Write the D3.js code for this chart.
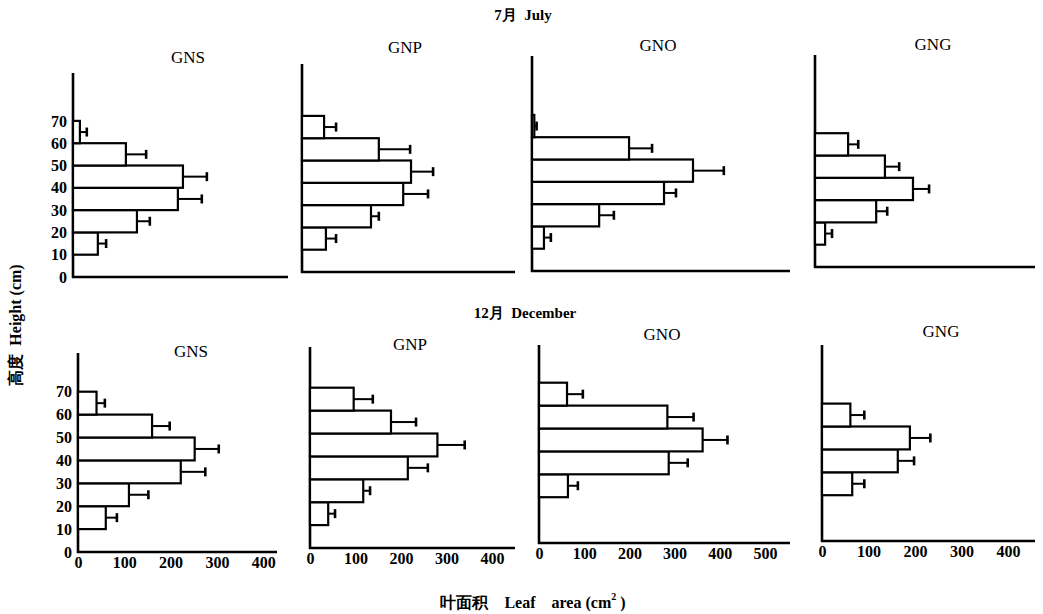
<!DOCTYPE html>
<html><head><meta charset="utf-8">
<script src="https://cdn.jsdelivr.net/npm/d3@7"></script>
<style>
html,body{margin:0;padding:0;background:#fff;}
svg text{font-family:"Liberation Serif","DejaVu Serif",serif;fill:#000;white-space:pre;}
</style></head>
<body>
<svg id="c" width="1043" height="614"></svg>
<script>
// ---------- data ----------
const panelNames = ["GNS", "GNP", "GNO", "GNG"];
const binStarts = [10, 20, 30, 40, 50, 60];       // lower edge of each 10 cm height class
const yTickValues = [0, 10, 20, 30, 40, 50, 60, 70];
const xTickValues = [0, 100, 200, 300, 400];
const xTickValuesGNO = [0, 100, 200, 300, 400, 500];

// July (7月)
const julyGNS = [54, 139, 228, 239, 115, 15];
const julyGNSErr = [18, 28, 52, 52, 44, 15];
const julyGNP = [52, 150, 220, 237, 167, 48];
const julyGNPErr = [22, 17, 54, 48, 68, 26];
const julyGNO = [26, 146, 287, 350, 211, 5];
const julyGNOErr = [15, 32, 26, 67, 50, 5];
const julyGNG = [22, 133, 213, 152, 72, null];
const julyGNGErr = [15, 24, 35, 31, 22, null];

// December (12月)
const decGNS = [60, 110, 222, 252, 160, 40];
const decGNSErr = [24, 42, 53, 52, 38, 18];
const decGNP = [40, 117, 215, 280, 178, 96];
const decGNPErr = [15, 15, 44, 60, 55, 42];
const decGNO = [null, 64, 287, 362, 284, 62];
const decGNOErr = [null, 22, 42, 55, 58, 35];
const decGNG = [null, 65, 163, 189, 61, null];
const decGNGErr = [null, 26, 35, 44, 30, null];

const rowTitles = ["7月  July", "12月  December"];
const yTitle = "高度  Height (cm)";
const xTitleCN = "叶面积", xTitleEN = "Leaf    area (cm", xTitleSup = "2", xTitleEnd = " )";

// ---------- layout ----------
const rowsData = [
  [[julyGNS, julyGNSErr], [julyGNP, julyGNPErr], [julyGNO, julyGNOErr], [julyGNG, julyGNGErr]],
  [[decGNS, decGNSErr], [decGNP, decGNPErr], [decGNO, decGNOErr], [decGNG, decGNGErr]]
];
const layout = [
  { yPer10: 22.3, showX: false, titleXY: [523, 15], panels: [
    { x0: 73,  base: 277, top: 73, end: 288,  px100: 46,   t: [188, 57] },
    { x0: 302, base: 272, top: 64, end: 515,  px100: 46,   t: [405, 47] },
    { x0: 532, base: 271, top: 56, end: 790,  px100: 46,   t: [658, 45] },
    { x0: 815, base: 267, top: 55, end: 1035, px100: 46,   t: [933, 44] } ] },
  { yPer10: 22.9, showX: true, titleXY: [525, 313], panels: [
    { x0: 78,  base: 552, top: 353, end: 277,  px100: 46.3, t: [191, 351] },
    { x0: 310, base: 548, top: 347, end: 515,  px100: 45.5, t: [410, 344] },
    { x0: 539, base: 543, top: 345, end: 790,  px100: 45.2, t: [662, 334] },
    { x0: 822, base: 541, top: 345, end: 1035, px100: 46.5, t: [941, 331] } ] }
];

const svg = d3.select("#c");

layout.forEach((row, ri) => {
  svg.append("text").attr("x", row.titleXY[0]).attr("y", row.titleXY[1])
    .attr("text-anchor", "middle").attr("dominant-baseline", "central")
    .style("font-size", "15px").style("font-weight", "bold").text(rowTitles[ri]);

  row.panels.forEach((p, pi) => {
    const [vals, errs] = rowsData[ri][pi];
    const x = d3.scaleLinear().domain([0, 100]).range([p.x0, p.x0 + p.px100]);
    const y = d3.scaleLinear().domain([0, 10]).range([p.base, p.base - row.yPer10]);
    const g = svg.append("g");

    // title
    g.append("text").attr("x", p.t[0]).attr("y", p.t[1])
      .attr("text-anchor", "middle").attr("dominant-baseline", "central")
      .style("font-size", "17px").text(panelNames[pi]);

    // axes lines
    g.append("line").attr("x1", p.x0).attr("x2", p.x0).attr("y1", p.top).attr("y2", p.base + 1)
      .attr("stroke", "#000").attr("stroke-width", 2.6);
    g.append("line").attr("x1", p.x0 - 1).attr("x2", p.end).attr("y1", p.base).attr("y2", p.base)
      .attr("stroke", "#000").attr("stroke-width", 2.6);

    // y tick labels (first column only)
    if (pi === 0) {
      const ya = d3.axisLeft(y).tickValues(yTickValues).tickSize(0).tickPadding(6).tickFormat(d3.format("d"));
      const ag = g.append("g").attr("transform", `translate(${p.x0},0)`).call(ya);
      ag.select(".domain").remove();
      ag.selectAll("text").style("font-family", '"Liberation Serif",serif')
        .style("font-size", "16px").style("font-weight", "bold").attr("fill", "#000");
    }
    // x tick labels (bottom row)
    if (row.showX) {
      const tv = pi === 2 ? xTickValuesGNO : xTickValues;
      const xa = d3.axisBottom(x).tickValues(tv).tickSize(0).tickPadding(5).tickFormat(d3.format("d"));
      const ag = g.append("g").attr("transform", `translate(0,${p.base})`).call(xa);
      ag.select(".domain").remove();
      ag.selectAll("text").style("font-family", '"Liberation Serif",serif')
        .style("font-size", "16px").style("font-weight", "bold").attr("fill", "#000");
    }

    const data = binStarts.map((b, i) => ({ b, v: vals[i], e: errs[i] })).filter(d => d.v != null);

    // bars
    g.selectAll("rect.bar").data(data).enter().append("rect").attr("class", "bar")
      .attr("x", x(0)).attr("y", d => y(d.b + 10))
      .attr("width", d => x(d.v) - x(0)).attr("height", d => y(d.b) - y(d.b + 10))
      .attr("fill", "#fff").attr("stroke", "#000").attr("stroke-width", 2.2);

    // error bars
    g.selectAll("line.err").data(data).enter().append("line").attr("class", "err")
      .attr("x1", d => x(d.v)).attr("x2", d => x(d.v + d.e))
      .attr("y1", d => y(d.b + 5)).attr("y2", d => y(d.b + 5))
      .attr("stroke", "#000").attr("stroke-width", 2);
    g.selectAll("line.cap").data(data).enter().append("line").attr("class", "cap")
      .attr("x1", d => x(d.v + d.e)).attr("x2", d => x(d.v + d.e))
      .attr("y1", d => y(d.b + 5) - 4.5).attr("y2", d => y(d.b + 5) + 4.5)
      .attr("stroke", "#000").attr("stroke-width", 2.6);
  });
});

// y axis title
svg.append("text").attr("transform", "translate(15,325) rotate(-90)")
  .attr("text-anchor", "middle").attr("dominant-baseline", "central")
  .style("font-size", "16px").style("font-weight", "bold").text(yTitle);

// x axis title
const xt = svg.append("text").attr("x", 533).attr("y", 602)
  .attr("text-anchor", "middle").attr("dominant-baseline", "central")
  .style("font-size", "16px").style("font-weight", "bold");
xt.append("tspan").text(xTitleCN + "    ");
xt.append("tspan").text(xTitleEN);
xt.append("tspan").attr("dy", -6).style("font-size", "10px").text(xTitleSup);
xt.append("tspan").attr("dy", 6).text(xTitleEnd);
</script>
</body></html>
